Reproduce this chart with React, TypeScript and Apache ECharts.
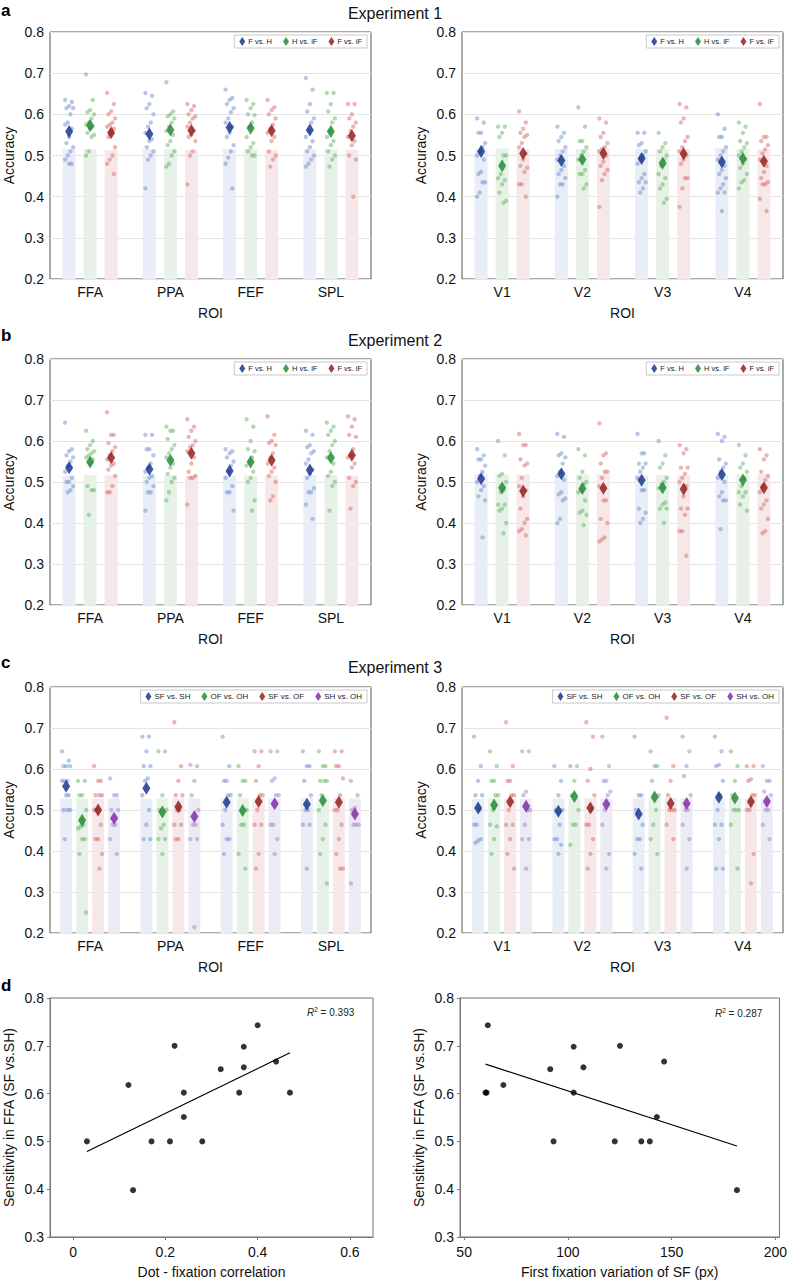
import React, { useEffect, useRef } from "react";
import * as echarts from "echarts";

// ---------------- DATA ----------------
const ROI_HIGH = ["FFA", "PPA", "FEF", "SPL"];
const ROI_LOW = ["V1", "V2", "V3", "V4"];
const COND_12 = ["F vs. H", "H vs. iF", "F vs. iF"];
const COND_3 = ["SF vs. SH", "OF vs. OH", "SF vs. OF", "SH vs. OH"];
const Y_TICKS_BAR = [0.2, 0.3, 0.4, 0.5, 0.6, 0.7, 0.8];

// Experiment 1 — higher-level ROIs  [condition][roi]
const E1H_BAR = [[0.515, 0.515, 0.516, 0.515], [0.516, 0.515, 0.516, 0.515], [0.513, 0.514, 0.513, 0.514]];
const E1H_MEAN = [[0.558, 0.552, 0.568, 0.562], [0.573, 0.562, 0.566, 0.558], [0.555, 0.561, 0.560, 0.548]];
const E1H_DOTS = [
  [
    [0.635, 0.63, 0.62, 0.615, 0.615, 0.60, 0.58, 0.575, 0.565, 0.545, 0.53, 0.52, 0.51, 0.50, 0.49, 0.48, 0.48],
    [0.652, 0.645, 0.625, 0.615, 0.60, 0.58, 0.57, 0.555, 0.54, 0.535, 0.52, 0.51, 0.50, 0.49, 0.42],
    [0.66, 0.64, 0.635, 0.625, 0.615, 0.605, 0.59, 0.58, 0.57, 0.555, 0.545, 0.525, 0.51, 0.495, 0.48, 0.42],
    [0.688, 0.66, 0.625, 0.607, 0.59, 0.58, 0.56, 0.545, 0.535, 0.52, 0.51, 0.50, 0.49, 0.48, 0.473],
  ],
  [
    [0.697, 0.635, 0.61, 0.605, 0.60, 0.59, 0.58, 0.575, 0.57, 0.565, 0.555, 0.55, 0.545, 0.51, 0.50],
    [0.678, 0.607, 0.60, 0.595, 0.59, 0.58, 0.57, 0.56, 0.55, 0.535, 0.525, 0.51, 0.50, 0.48, 0.473],
    [0.635, 0.625, 0.615, 0.60, 0.598, 0.58, 0.57, 0.545, 0.53, 0.52, 0.51, 0.50, 0.50],
    [0.652, 0.652, 0.625, 0.607, 0.59, 0.58, 0.56, 0.545, 0.535, 0.525, 0.51, 0.50, 0.49, 0.473],
  ],
  [
    [0.652, 0.625, 0.607, 0.60, 0.59, 0.58, 0.575, 0.57, 0.565, 0.555, 0.545, 0.52, 0.50, 0.49, 0.48, 0.455],
    [0.625, 0.62, 0.61, 0.60, 0.595, 0.59, 0.58, 0.57, 0.56, 0.55, 0.545, 0.535, 0.51, 0.50, 0.43],
    [0.635, 0.617, 0.61, 0.60, 0.59, 0.575, 0.565, 0.555, 0.545, 0.535, 0.51, 0.50, 0.49, 0.473],
    [0.625, 0.625, 0.60, 0.59, 0.58, 0.57, 0.56, 0.545, 0.535, 0.525, 0.50, 0.49, 0.40],
  ],
];

// Experiment 1 — early visual ROIs
const E1L_BAR = [[0.515, 0.516, 0.516, 0.518], [0.517, 0.516, 0.515, 0.516], [0.515, 0.516, 0.516, 0.515]];
const E1L_MEAN = [[0.510, 0.488, 0.493, 0.484], [0.475, 0.490, 0.481, 0.493], [0.505, 0.505, 0.504, 0.486]];
const E1L_DOTS = [
  [
    [0.59, 0.58, 0.555, 0.555, 0.53, 0.52, 0.51, 0.50, 0.49, 0.46, 0.455, 0.435, 0.435, 0.41, 0.40],
    [0.57, 0.555, 0.545, 0.535, 0.52, 0.51, 0.50, 0.49, 0.475, 0.465, 0.455, 0.445, 0.43, 0.43, 0.40],
    [0.555, 0.555, 0.53, 0.525, 0.51, 0.50, 0.49, 0.48, 0.455, 0.445, 0.435, 0.435, 0.42, 0.41],
    [0.60, 0.565, 0.545, 0.545, 0.52, 0.51, 0.50, 0.49, 0.475, 0.465, 0.455, 0.445, 0.43, 0.42, 0.41, 0.41, 0.365],
  ],
  [
    [0.57, 0.57, 0.555, 0.545, 0.50, 0.50, 0.455, 0.445, 0.44, 0.43, 0.41, 0.39, 0.385],
    [0.617, 0.57, 0.535, 0.535, 0.52, 0.51, 0.50, 0.49, 0.465, 0.455, 0.455, 0.43, 0.42],
    [0.555, 0.53, 0.52, 0.51, 0.50, 0.49, 0.475, 0.455, 0.445, 0.43, 0.42, 0.395, 0.385],
    [0.58, 0.57, 0.555, 0.535, 0.53, 0.52, 0.51, 0.50, 0.49, 0.48, 0.47, 0.455, 0.44, 0.435, 0.42],
  ],
  [
    [0.607, 0.58, 0.565, 0.555, 0.55, 0.545, 0.53, 0.52, 0.505, 0.49, 0.475, 0.47, 0.46, 0.43, 0.43, 0.40],
    [0.59, 0.58, 0.555, 0.545, 0.53, 0.52, 0.515, 0.51, 0.50, 0.485, 0.475, 0.465, 0.455, 0.44, 0.375],
    [0.625, 0.617, 0.59, 0.58, 0.545, 0.535, 0.52, 0.51, 0.50, 0.49, 0.48, 0.445, 0.445, 0.42, 0.375],
    [0.625, 0.545, 0.545, 0.535, 0.525, 0.515, 0.505, 0.49, 0.475, 0.46, 0.445, 0.435, 0.43, 0.43, 0.395, 0.365],
  ],
];

// Experiment 2 — higher-level ROIs
const E2H_BAR = [[0.516, 0.516, 0.516, 0.516], [0.517, 0.516, 0.516, 0.517], [0.516, 0.516, 0.516, 0.516]];
const E2H_MEAN = [[0.535, 0.531, 0.527, 0.529], [0.549, 0.553, 0.549, 0.559], [0.559, 0.570, 0.553, 0.565]];
const E2H_DOTS = [
  [
    [0.645, 0.58, 0.575, 0.565, 0.56, 0.55, 0.54, 0.525, 0.51, 0.50, 0.50, 0.49, 0.48, 0.475],
    [0.615, 0.615, 0.58, 0.58, 0.565, 0.545, 0.535, 0.525, 0.515, 0.51, 0.50, 0.49, 0.475, 0.475, 0.43],
    [0.58, 0.575, 0.57, 0.56, 0.55, 0.54, 0.525, 0.51, 0.49, 0.475, 0.475, 0.43],
    [0.625, 0.615, 0.59, 0.585, 0.575, 0.57, 0.555, 0.545, 0.53, 0.52, 0.51, 0.485, 0.475, 0.475, 0.445, 0.41],
  ],
  [
    [0.625, 0.60, 0.59, 0.58, 0.575, 0.57, 0.565, 0.56, 0.555, 0.545, 0.49, 0.48, 0.48, 0.42],
    [0.635, 0.625, 0.625, 0.605, 0.59, 0.58, 0.57, 0.56, 0.545, 0.535, 0.52, 0.51, 0.50, 0.475, 0.455],
    [0.653, 0.635, 0.60, 0.58, 0.575, 0.56, 0.55, 0.54, 0.525, 0.51, 0.50, 0.455, 0.43],
    [0.645, 0.635, 0.625, 0.615, 0.60, 0.59, 0.575, 0.56, 0.545, 0.525, 0.515, 0.50, 0.49, 0.43],
  ],
  [
    [0.67, 0.615, 0.615, 0.595, 0.585, 0.575, 0.565, 0.555, 0.545, 0.54, 0.53, 0.515, 0.49, 0.475, 0.475],
    [0.653, 0.635, 0.625, 0.61, 0.60, 0.59, 0.585, 0.575, 0.56, 0.545, 0.525, 0.515, 0.51, 0.51, 0.445],
    [0.66, 0.615, 0.60, 0.595, 0.59, 0.57, 0.56, 0.545, 0.535, 0.525, 0.515, 0.50, 0.465, 0.455],
    [0.66, 0.653, 0.635, 0.615, 0.61, 0.58, 0.565, 0.56, 0.545, 0.535, 0.51, 0.50, 0.49, 0.435],
  ],
];

// Experiment 2 — early visual ROIs
const E2L_BAR = [[0.518, 0.517, 0.517, 0.518], [0.518, 0.518, 0.517, 0.518], [0.518, 0.519, 0.517, 0.518]];
const E2L_MEAN = [[0.508, 0.520, 0.504, 0.518], [0.486, 0.484, 0.486, 0.505], [0.478, 0.485, 0.483, 0.486]];
const E2L_DOTS = [
  [
    [0.58, 0.565, 0.555, 0.555, 0.54, 0.525, 0.515, 0.50, 0.49, 0.48, 0.465, 0.455, 0.365],
    [0.617, 0.61, 0.57, 0.565, 0.56, 0.545, 0.525, 0.515, 0.505, 0.475, 0.47, 0.46, 0.455, 0.41, 0.40],
    [0.617, 0.57, 0.57, 0.545, 0.545, 0.535, 0.525, 0.51, 0.48, 0.48, 0.435, 0.425, 0.41, 0.40],
    [0.617, 0.61, 0.60, 0.555, 0.545, 0.535, 0.525, 0.51, 0.50, 0.475, 0.465, 0.455, 0.455, 0.385],
  ],
  [
    [0.60, 0.565, 0.52, 0.515, 0.50, 0.48, 0.475, 0.445, 0.445, 0.435, 0.43, 0.40, 0.375],
    [0.58, 0.565, 0.525, 0.51, 0.50, 0.495, 0.48, 0.475, 0.455, 0.43, 0.425, 0.42, 0.395],
    [0.60, 0.565, 0.545, 0.535, 0.51, 0.50, 0.495, 0.485, 0.45, 0.445, 0.435, 0.435, 0.40],
    [0.59, 0.565, 0.545, 0.535, 0.525, 0.51, 0.49, 0.475, 0.475, 0.465, 0.445, 0.43],
  ],
  [
    [0.617, 0.59, 0.59, 0.555, 0.545, 0.54, 0.51, 0.49, 0.48, 0.465, 0.435, 0.41, 0.40, 0.385, 0.38, 0.37],
    [0.643, 0.57, 0.565, 0.545, 0.525, 0.525, 0.51, 0.49, 0.455, 0.455, 0.41, 0.40, 0.365, 0.36, 0.355],
    [0.59, 0.58, 0.57, 0.535, 0.535, 0.52, 0.51, 0.50, 0.49, 0.465, 0.435, 0.435, 0.42, 0.38, 0.38, 0.32],
    [0.58, 0.565, 0.555, 0.525, 0.515, 0.505, 0.49, 0.475, 0.455, 0.445, 0.435, 0.41, 0.38, 0.375],
  ],
];

// Experiment 3 — higher-level ROIs
const E3H_BAR = [[0.528, 0.528, 0.528, 0.529], [0.528, 0.528, 0.528, 0.528], [0.527, 0.528, 0.528, 0.529], [0.528, 0.528, 0.528, 0.528]];
const E3H_MEAN = [[0.558, 0.553, 0.519, 0.514], [0.475, 0.495, 0.499, 0.523], [0.500, 0.508, 0.521, 0.519], [0.480, 0.484, 0.515, 0.490]];
const E3H_DOTS = [
  [
    [0.643, 0.62, 0.607, 0.607, 0.607, 0.571, 0.571, 0.571, 0.536, 0.536, 0.5, 0.5, 0.5, 0.429],
    [0.679, 0.679, 0.643, 0.607, 0.607, 0.577, 0.571, 0.536, 0.5, 0.464, 0.429, 0.429],
    [0.679, 0.607, 0.571, 0.571, 0.536, 0.536, 0.5, 0.464, 0.429, 0.429, 0.393],
    [0.643, 0.607, 0.607, 0.571, 0.536, 0.5, 0.5, 0.464, 0.464, 0.357],
  ],
  [
    [0.571, 0.571, 0.536, 0.536, 0.5, 0.464, 0.46, 0.455, 0.429, 0.429, 0.393, 0.25],
    [0.643, 0.643, 0.536, 0.5, 0.5, 0.464, 0.455, 0.429, 0.429, 0.393],
    [0.607, 0.571, 0.571, 0.536, 0.5, 0.464, 0.464, 0.393, 0.357],
    [0.643, 0.607, 0.607, 0.571, 0.571, 0.571, 0.536, 0.5, 0.464, 0.429, 0.393, 0.321],
  ],
  [
    [0.607, 0.571, 0.571, 0.536, 0.536, 0.536, 0.5, 0.5, 0.464, 0.429, 0.429, 0.393, 0.357],
    [0.714, 0.607, 0.571, 0.536, 0.536, 0.5, 0.5, 0.464, 0.464, 0.429, 0.429],
    [0.643, 0.643, 0.607, 0.571, 0.536, 0.536, 0.5, 0.464, 0.464, 0.393, 0.357],
    [0.643, 0.643, 0.607, 0.607, 0.577, 0.536, 0.5, 0.5, 0.464, 0.429, 0.393, 0.357, 0.357],
  ],
  [
    [0.577, 0.536, 0.536, 0.5, 0.5, 0.464, 0.464, 0.429, 0.393],
    [0.61, 0.607, 0.571, 0.536, 0.5, 0.464, 0.464, 0.429, 0.429, 0.214],
    [0.643, 0.643, 0.577, 0.571, 0.536, 0.536, 0.464, 0.464, 0.429, 0.393],
    [0.571, 0.536, 0.505, 0.5, 0.464, 0.464, 0.464, 0.321],
  ],
];

// Experiment 3 — early visual ROIs
const E3L_BAR = [[0.527, 0.528, 0.528, 0.527], [0.528, 0.528, 0.529, 0.528], [0.528, 0.529, 0.530, 0.529], [0.527, 0.528, 0.528, 0.528]];
const E3L_MEAN = [[0.505, 0.497, 0.490, 0.531], [0.512, 0.533, 0.532, 0.529], [0.520, 0.505, 0.516, 0.520], [0.509, 0.514, 0.516, 0.521]];
const E3L_DOTS = [
  [
    [0.679, 0.607, 0.571, 0.536, 0.536, 0.5, 0.464, 0.464, 0.429, 0.425, 0.42],
    [0.607, 0.571, 0.536, 0.5, 0.5, 0.464, 0.429, 0.429, 0.415, 0.393],
    [0.679, 0.536, 0.536, 0.5, 0.464, 0.429, 0.429, 0.393, 0.357],
    [0.679, 0.643, 0.61, 0.607, 0.571, 0.536, 0.5, 0.464, 0.464, 0.429, 0.357, 0.357],
  ],
  [
    [0.643, 0.607, 0.571, 0.571, 0.536, 0.536, 0.5, 0.464, 0.46, 0.429, 0.393],
    [0.607, 0.607, 0.571, 0.536, 0.5, 0.464, 0.464, 0.415],
    [0.643, 0.607, 0.607, 0.571, 0.536, 0.5, 0.464, 0.429, 0.393],
    [0.643, 0.607, 0.571, 0.536, 0.5, 0.5, 0.5, 0.464, 0.357],
  ],
  [
    [0.714, 0.607, 0.571, 0.571, 0.536, 0.536, 0.5, 0.464, 0.464, 0.429, 0.393, 0.357],
    [0.714, 0.679, 0.6, 0.571, 0.536, 0.5, 0.464, 0.464, 0.429, 0.393, 0.357],
    [0.725, 0.607, 0.571, 0.536, 0.5, 0.5, 0.5, 0.464, 0.429],
    [0.607, 0.607, 0.575, 0.571, 0.536, 0.536, 0.5, 0.5, 0.393, 0.321],
  ],
  [
    [0.643, 0.643, 0.545, 0.536, 0.5, 0.5, 0.464, 0.429, 0.429, 0.357],
    [0.679, 0.607, 0.571, 0.571, 0.545, 0.536, 0.5, 0.464, 0.393, 0.357],
    [0.679, 0.643, 0.607, 0.583, 0.536, 0.5, 0.5, 0.464, 0.429, 0.357],
    [0.607, 0.571, 0.571, 0.545, 0.536, 0.5, 0.5, 0.464, 0.429],
  ],
];

// Panel d — scatter data
const D1_X = [0.03, 0.12, 0.13, 0.17, 0.21, 0.22, 0.24, 0.24, 0.28, 0.32, 0.36, 0.37, 0.37, 0.40, 0.44, 0.47];
const D1_Y = [0.50, 0.618, 0.398, 0.50, 0.50, 0.70, 0.602, 0.551, 0.50, 0.651, 0.602, 0.698, 0.655, 0.743, 0.667, 0.602];
const D2_X = [60.3, 60.8, 61.4, 68.9, 91.5, 93.1, 102.8, 102.8, 107.5, 122.6, 125.1, 135.4, 139.5, 142.9, 146.4, 181.5];
const D2_Y = [0.602, 0.602, 0.743, 0.618, 0.651, 0.50, 0.698, 0.602, 0.655, 0.50, 0.70, 0.50, 0.50, 0.551, 0.667, 0.398];
const D1_R2 = "0.393";
const D2_R2 = "0.287";
const D1_XTICKS = [0, 0.2, 0.4, 0.6];
const D2_XTICKS = [50, 100, 150, 200];
const D_YTICKS = [0.3, 0.4, 0.5, 0.6, 0.7, 0.8];

// ---------------- STYLE ----------------
const FONT = "'Liberation Sans', Arial, Helvetica, sans-serif";
const BAR_COLORS = ["#e9eef6", "#e7f1e7", "#f6e8e8", "#ecebf3"];
const DOT_COLORS = ["rgba(105,135,205,0.6)", "rgba(95,175,95,0.6)", "rgba(215,100,100,0.6)", "rgba(150,130,200,0.6)"];
const MEAN_COLORS = ["#0b2a86", "#16852a", "#8c1111", "#7a1fa3"];
const TXT = "#111";

function buildOption() {
  const grid: any[] = [];
  const xAxis: any[] = [];
  const yAxis: any[] = [];
  const series: any[] = [];
  const legend: any[] = [];

  const jitter = (i: number) => ((((i * 5) % 7) - 3) / 3) * 0.05;

  function barPanel(left: number, top: number, width: number, height: number, rois: string[], conds: string[],
    bars: number[][], means: number[][], dots: number[][][], legendFont: number) {
    const g = grid.length;
    grid.push({ left, top, width, height, show: true, borderColor: "#555", borderWidth: 1, backgroundColor: "#fff", containLabel: false });
    const xc = xAxis.length;
    xAxis.push({
      type: "category", gridIndex: g, data: rois,
      axisTick: { show: false }, axisLine: { show: false },
      axisLabel: { fontSize: 14, color: TXT, margin: 6, fontFamily: FONT },
      name: "ROI", nameLocation: "middle", nameGap: 27,
      nameTextStyle: { fontSize: 14, color: TXT, fontFamily: FONT },
    });
    const xv = xAxis.length;
    xAxis.push({ type: "value", gridIndex: g, min: -0.5, max: rois.length - 0.5, show: false });
    const y = yAxis.length;
    yAxis.push({
      type: "value", gridIndex: g, min: Y_TICKS_BAR[0], max: Y_TICKS_BAR[Y_TICKS_BAR.length - 1], interval: 0.1,
      axisLine: { show: false }, axisTick: { show: false },
      splitLine: { lineStyle: { color: "#e4e4e4", width: 1 } },
      axisLabel: { formatter: (v: number) => v.toFixed(1), fontSize: 14, color: TXT, margin: 6, fontFamily: FONT },
      name: "Accuracy", nameLocation: "middle", nameGap: 34,
      nameTextStyle: { fontSize: 14, color: TXT, fontFamily: FONT },
    });
    const n = conds.length;
    const barW = n === 3 ? 13 : 12;
    const gapPx = n === 3 ? 8 : 4;
    const catW = width / rois.length;
    for (let s = 0; s < n; s++) {
      const off = ((s - (n - 1) / 2) * (barW + gapPx)) / catW;
      series.push({
        type: "bar", name: conds[s] + " bar", xAxisIndex: xc, yAxisIndex: y,
        data: bars[s], barWidth: barW, barGap: `${Math.round((gapPx / barW) * 100)}%`,
        itemStyle: { color: BAR_COLORS[s] }, silent: true, z: 1,
      });
      const pts: number[][] = [];
      dots[s].forEach((vals, r) => vals.forEach((v, i) => pts.push([r + off + jitter(i), v])));
      series.push({
        type: "scatter", name: conds[s] + " subjects", xAxisIndex: xv, yAxisIndex: y,
        data: pts, symbolSize: 4.4, itemStyle: { color: DOT_COLORS[s] }, silent: true, z: 3,
      });
      series.push({
        type: "scatter", name: conds[s], xAxisIndex: xv, yAxisIndex: y,
        data: means[s].map((m, r) => [r + off, m]), symbol: "diamond", symbolSize: [8, 13],
        itemStyle: { color: MEAN_COLORS[s] }, silent: true, z: 5,
      });
    }
    legend.push({
      top: top + 3, right: 790 - (left + width) + 4, orient: "horizontal",
      data: conds, icon: "diamond", itemWidth: 6, itemHeight: 9, itemGap: 11,
      textStyle: { fontSize: legendFont, color: "#222", fontFamily: FONT, padding: [0, 0, 0, -2] },
      borderColor: "#bbb", borderWidth: 0.8, padding: [2, 5], backgroundColor: "#fff",
      selectedMode: false, z: 10,
    });
  }

  function scatterPanel(left: number, top: number, width: number, height: number, xs: number[], ys: number[],
    xmin: number, xmax: number, xticks: number[], xname: string, xfmt: (v: number) => string) {
    const g = grid.length;
    grid.push({ left, top, width, height, show: true, borderColor: "#777", borderWidth: 1, backgroundColor: "#fff" });
    const xi = xAxis.length;
    xAxis.push({
      type: "value", gridIndex: g, min: xmin, max: xmax,
      axisLine: { show: true, onZero: false, lineStyle: { color: "#777" } },
      axisTick: { show: true, length: 3, customValues: xticks, lineStyle: { color: "#777" } },
      axisLabel: { customValues: xticks, formatter: xfmt, fontSize: 14, color: TXT, margin: 8, fontFamily: FONT },
      splitLine: { show: false },
      name: xname, nameLocation: "middle", nameGap: 28,
      nameTextStyle: { fontSize: 14, color: TXT, fontFamily: FONT },
    });
    const yi = yAxis.length;
    yAxis.push({
      type: "value", gridIndex: g, min: D_YTICKS[0], max: D_YTICKS[D_YTICKS.length - 1], interval: 0.1,
      axisLine: { show: true, onZero: false, lineStyle: { color: "#777" } },
      axisTick: { show: true, length: 3, lineStyle: { color: "#777" } },
      axisLabel: { formatter: (v: number) => v.toFixed(1), fontSize: 14, color: TXT, margin: 6, fontFamily: FONT },
      splitLine: { show: false },
      name: "Sensitivity in FFA (SF vs.SH)", nameLocation: "middle", nameGap: 34,
      nameTextStyle: { fontSize: 14, color: TXT, fontFamily: FONT },
    });
    series.push({
      type: "scatter", xAxisIndex: xi, yAxisIndex: yi, data: xs.map((x, i) => [x, ys[i]]),
      symbolSize: 6, itemStyle: { color: "#000" }, silent: true, z: 4,
    });
    // least-squares fit
    const n = xs.length;
    const mx = xs.reduce((a, b) => a + b, 0) / n;
    const my = ys.reduce((a, b) => a + b, 0) / n;
    let sxy = 0, sxx = 0;
    xs.forEach((x, i) => { sxy += (x - mx) * (ys[i] - my); sxx += (x - mx) * (x - mx); });
    const b = sxy / sxx;
    const a = my - b * mx;
    const x0 = Math.min(...xs), x1 = Math.max(...xs);
    series.push({
      type: "line", xAxisIndex: xi, yAxisIndex: yi, data: [[x0, a + b * x0], [x1, a + b * x1]],
      showSymbol: false, lineStyle: { color: "#000", width: 1.2 }, silent: true, z: 3,
    });
  }

  barPanel(50, 32, 321, 247, ROI_HIGH, COND_12, E1H_BAR, E1H_MEAN, E1H_DOTS, 7.5);
  barPanel(462, 32, 321, 247, ROI_LOW, COND_12, E1L_BAR, E1L_MEAN, E1L_DOTS, 7.5);
  barPanel(50, 359, 321, 246, ROI_HIGH, COND_12, E2H_BAR, E2H_MEAN, E2H_DOTS, 7.5);
  barPanel(462, 359, 321, 246, ROI_LOW, COND_12, E2L_BAR, E2L_MEAN, E2L_DOTS, 7.5);
  barPanel(50, 687, 321, 246, ROI_HIGH, COND_3, E3H_BAR, E3H_MEAN, E3H_DOTS, 8);
  barPanel(462, 687, 321, 246, ROI_LOW, COND_3, E3L_BAR, E3L_MEAN, E3L_DOTS, 8);
  scatterPanel(50, 998, 323, 239, D1_X, D1_Y, -0.05, 0.65, D1_XTICKS, "Dot - fixation correlation",
    (v: number) => (v === 0 ? "0" : v.toFixed(1)));
  scatterPanel(460, 998, 323, 239, D2_X, D2_Y, 48, 202, D2_XTICKS, "First fixation variation of SF (px)",
    (v: number) => String(Math.round(v)));

  const titleStyle = { fontSize: 16, fill: TXT, fontFamily: FONT, align: "center", verticalAlign: "middle" };
  const letterStyle = { fontSize: 17, fontWeight: "bold", fill: "#000", fontFamily: FONT, verticalAlign: "middle" };
  const r2Rich = {
    i: { fontSize: 10, fontStyle: "italic", fill: "#222", fontFamily: FONT },
    s: { fontSize: 6.5, fill: "#222", fontFamily: FONT, verticalAlign: "top", padding: [0, 0, 5, 0] },
    t: { fontSize: 10, fill: "#222", fontFamily: FONT },
  };
  const graphic = [
    { type: "text", x: 395, y: 13, style: { text: "Experiment 1", ...titleStyle } },
    { type: "text", x: 395, y: 340, style: { text: "Experiment 2", ...titleStyle } },
    { type: "text", x: 395, y: 667, style: { text: "Experiment 3", ...titleStyle } },
    { type: "text", x: 1, y: 10, style: { text: "a", ...letterStyle } },
    { type: "text", x: 1, y: 335, style: { text: "b", ...letterStyle } },
    { type: "text", x: 1, y: 662, style: { text: "c", ...letterStyle } },
    { type: "text", x: 1, y: 985, style: { text: "d", ...letterStyle } },
    { type: "text", x: 307, y: 1012, style: { text: `{i|R}{s|2}{t| = ${D1_R2}}`, rich: r2Rich, verticalAlign: "middle" } },
    { type: "text", x: 715, y: 1013, style: { text: `{i|R}{s|2}{t| = ${D2_R2}}`, rich: r2Rich, verticalAlign: "middle" } },
  ];

  return {
    animation: false,
    backgroundColor: "#fff",
    textStyle: { fontFamily: FONT },
    grid, xAxis, yAxis, series, legend, graphic,
  };
}

export default function App() {
  const ref = useRef<HTMLDivElement>(null);
  useEffect(() => {
    document.body.style.margin = "0";
    const chart = echarts.init(ref.current!, null, { renderer: "svg" });
    chart.setOption(buildOption() as any);
    return () => chart.dispose();
  }, []);
  return <div ref={ref} style={{ width: 790, height: 1281, position: "absolute", left: 0, top: 0 }} />;
}
